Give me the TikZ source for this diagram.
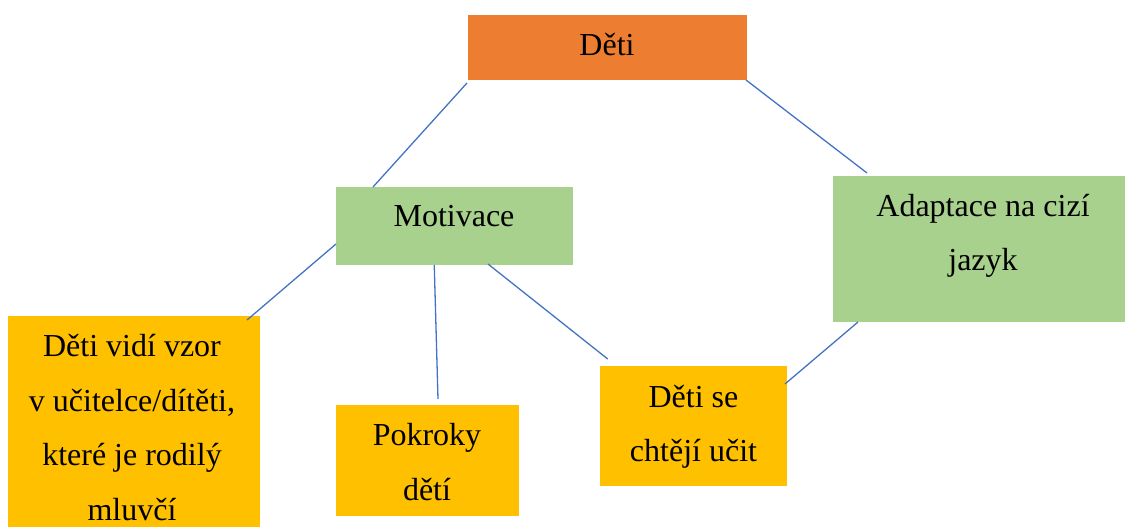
\documentclass[tikz,border=0pt]{standalone}
\usepackage{fontspec}
\setmainfont{Liberation Serif}
\usetikzlibrary{calc}
\definecolor{cOrange}{HTML}{ED7D31}
\definecolor{cGreen}{HTML}{A9D18E}
\definecolor{cYellow}{HTML}{FFC000}
\definecolor{cLine}{HTML}{4472C4}
\begin{document}
\begin{tikzpicture}[x=1pt,y=-1pt,
  box/.style={draw=none,inner sep=0pt,outer sep=0pt},
  orangebox/.style={box,fill=cOrange},
  greenbox/.style={box,fill=cGreen},
  yellowbox/.style={box,fill=cYellow},
  txt/.style={inner sep=0pt,anchor=base,align=center,font=\fontsize{32}{54.5}\selectfont},
  conn/.style={draw=cLine,line width=1.3pt}]
\useasboundingbox (0,0) rectangle (1125,527);
\clip (0,0) rectangle (1125,527);
% boxes
\node[orangebox,minimum width=279pt,minimum height=65pt] (deti) at (607.5,47.5) {};
\node[greenbox,minimum width=236.5pt,minimum height=78pt] (mot) at (454.25,226) {};
\node[greenbox,minimum width=297pt,minimum height=146pt] (adapt) at (981.5,249) {};
\node[yellowbox,minimum width=251.5pt,minimum height=219pt] (vidi) at (133.75,425.5) {};
\node[yellowbox,minimum width=183.3pt,minimum height=111pt] (pokr) at (427.7,460.5) {};
\node[yellowbox,minimum width=187pt,minimum height=119.7pt] (chte) at (693.5,425.85) {};
% texts (anchor base = baseline of the last line)
\node[txt] (detiT) at (607,56) {Děti};
\node[txt] (motT) at (454,226.7) {Motivace};
\node[txt] (adaptT) at (983,270.5) {Adaptace na cizí\\jazyk};
\node[txt] (vidiT) at (132,520) {Děti vidí vzor\\v učitelce/dítěti,\\které je rodilý\\mluvčí};
\node[txt] (pokrT) at (427,500) {Pokroky\\dětí};
\node[txt] (chteT) at (693.5,461.7) {Děti se\\chtějí učit};
% connectors
\draw[conn] ($(deti.south west)+(-1,3)$) -- ($(mot.north west)+(37,0)$);
\draw[conn] ($(deti.south east)+(-1,0)$) -- ($(adapt.north west)+(34,-3)$);
\draw[conn] ($(mot.south west)+(0,-21)$) -- ($(vidi.north east)+(-12.5,4)$);
\draw[conn] ($(mot.south)+(-20,0)$) -- ($(pokr.north)+(10.3,-6)$);
\draw[conn] ($(mot.south)+(33.75,-1)$) -- ($(chte.north west)+(7.7,-7)$);
\draw[conn] ($(adapt.south west)+(25,0)$) -- ($(chte.north east)+(-2,18)$);
\end{tikzpicture}
\end{document}
